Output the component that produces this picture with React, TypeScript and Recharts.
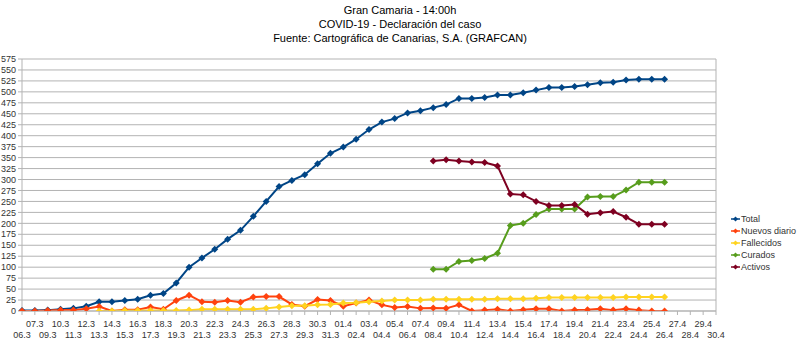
import React from 'react';
import { LineChart, Line, XAxis, YAxis, CartesianGrid, ReferenceLine } from 'recharts';

const categories = [
  '06.3','07.3','09.3','10.3','11.3','12.3','13.3','14.3','15.3','16.3','17.3','18.3','19.3','20.3','21.3','22.3','23.3','24.3','25.3','26.3','27.3','28.3','29.3','30.3','31.3',
  '01.4','02.4','03.4','04.4','05.4','06.4','07.4','08.4','09.4','10.4','11.4','12.4','13.4','14.4','15.4','16.4','17.4','18.4','19.4','20.4','21.4','22.4','23.4','24.4','25.4','26.4','27.4','28.4','29.4','30.4',
];

const total = [
  1,1,2,4,6,11,21,21,24,27,36,40,64,100,121,141,164,184,216,250,284,298,311,336,360,
  374,392,414,431,439,452,457,464,471,485,485,487,493,493,498,504,510,510,512,516,521,522,527,529,529,529,null,null,null,null,
];

const nuevos = [
  0,0,1,2,2,5,10,0,3,3,9,4,24,36,21,20,24,20,32,33,33,15,11,26,24,
  11,18,25,14,8,10,6,7,6,14,0,2,4,0,3,5,5,0,2,3,5,2,5,2,0,0,null,null,null,null,
];

const fallecidos = [
  null,null,null,null,null,null,0,0,1,1,1,1,1,2,4,4,4,4,4,6,9,12,12,14,15,
  18,19,21,23,25,25,25,27,27,27,27,27,28,28,28,29,31,31,31,31,31,31,32,32,32,32,null,null,null,null,
];

const curados = [
  null,null,null,null,null,null,null,null,null,null,null,null,null,null,null,null,null,null,null,null,null,null,null,null,null,
  null,null,null,null,null,null,null,95,95,113,115,120,132,195,200,220,233,233,233,260,261,261,276,294,294,294,null,null,null,null,
];

const activos = [
  null,null,null,null,null,null,null,null,null,null,null,null,null,null,null,null,null,null,null,null,null,null,null,null,null,
  null,null,null,null,null,null,null,342,345,342,340,339,331,267,265,250,241,241,243,221,224,227,214,198,198,198,null,null,null,null,
];

const yTicks = [0,25,50,75,100,125,150,175,200,225,250,275,300,325,350,375,400,425,450,475,500,525,550,575];

const seriesNames = ['Total', 'Nuevos diario', 'Fallecidos', 'Curados', 'Activos'];
const seriesKeys = ['total', 'nuevos', 'fallecidos', 'curados', 'activos'];
const seriesColors = ['#004586', '#ff420e', '#ffd320', '#579d1c', '#7e0021'];

const titleLines = ['Gran Camaria - 14:00h', 'COVID-19 - Declaración del caso', 'Fuente: Cartográfica de Canarias, S.A. (GRAFCAN)'];

const data = categories.map((c, i) => ({
  date: c,
  total: total[i],
  nuevos: nuevos[i],
  fallecidos: fallecidos[i],
  curados: curados[i],
  activos: activos[i],
}));

const FONT = '"Liberation Sans", Arial, sans-serif';

const makeDiamond = (color: string) => (props: any) => {
  const { cx, cy, index } = props;
  if (cx == null || cy == null || props.value == null) return <g key={`d-${index}`} />;
  const r = 3.5;
  return (
    <path
      key={`d-${index}`}
      d={`M${cx},${cy - r}L${cx + r},${cy}L${cx},${cy + r}L${cx - r},${cy}Z`}
      fill={color}
      stroke="none"
    />
  );
};

const XTick = (props: any) => {
  const { x, y, payload, index } = props;
  const dy = index % 2 === 1 ? 11.5 : 23;
  return (
    <text x={x} y={y + dy} textAnchor="middle" fontSize={9} fill="#333" fontFamily={FONT}>
      {payload.value}
    </text>
  );
};

export default function App() {
  return (
    <div style={{ position: 'absolute', left: 0, top: 0, width: 800, height: 346, background: '#fff', fontFamily: FONT }}>
      <div style={{ position: 'absolute', left: 0, top: 3, width: 800, textAlign: 'center', fontSize: 11, lineHeight: '14px', color: '#000' }}>
        {titleLines.map((t) => (
          <div key={t}>{t}</div>
        ))}
      </div>
      <LineChart width={800} height={346} data={data} margin={{ top: 59, right: 84, left: 0, bottom: 5 }}>
        <CartesianGrid vertical={false} stroke="#b3b3b3" />
        <XAxis
          dataKey="date"
          interval={0}
          tick={<XTick />}
          tickSize={4}
          tickMargin={0}
          height={30}
          stroke="#b3b3b3"
          tickLine={{ stroke: '#b3b3b3' }}
        />
        <YAxis
          domain={[0, 575]}
          ticks={yTicks}
          interval={0}
          width={22}
          tickSize={4}
          tickMargin={2}
          stroke="#b3b3b3"
          tick={{ fontSize: 9, fill: '#333', fontFamily: FONT }}
          allowDataOverflow
        />
        <ReferenceLine x="30.4" stroke="#b3b3b3" />
        {seriesKeys.map((k, i) => (
          <Line
            key={k}
            type="linear"
            dataKey={k}
            name={seriesNames[i]}
            stroke={seriesColors[i]}
            strokeWidth={2}
            dot={makeDiamond(seriesColors[i])}
            activeDot={false}
            isAnimationActive={false}
          />
        ))}
      </LineChart>
      <div style={{ position: 'absolute', left: 731, top: 213, fontSize: 9, color: '#333' }}>
        {seriesNames.map((n, i) => (
          <div key={n} style={{ display: 'flex', alignItems: 'center', height: 12 }}>
            <svg width={9} height={12} style={{ marginRight: 1 }}>
              <line x1={0} y1={6} x2={9} y2={6} stroke={seriesColors[i]} strokeWidth={1.5} />
              <path d="M4.5,3.5L7,6L4.5,8.5L2,6Z" fill={seriesColors[i]} />
            </svg>
            <span style={{ whiteSpace: 'nowrap', lineHeight: '12px' }}>{n}</span>
          </div>
        ))}
      </div>
    </div>
  );
}
